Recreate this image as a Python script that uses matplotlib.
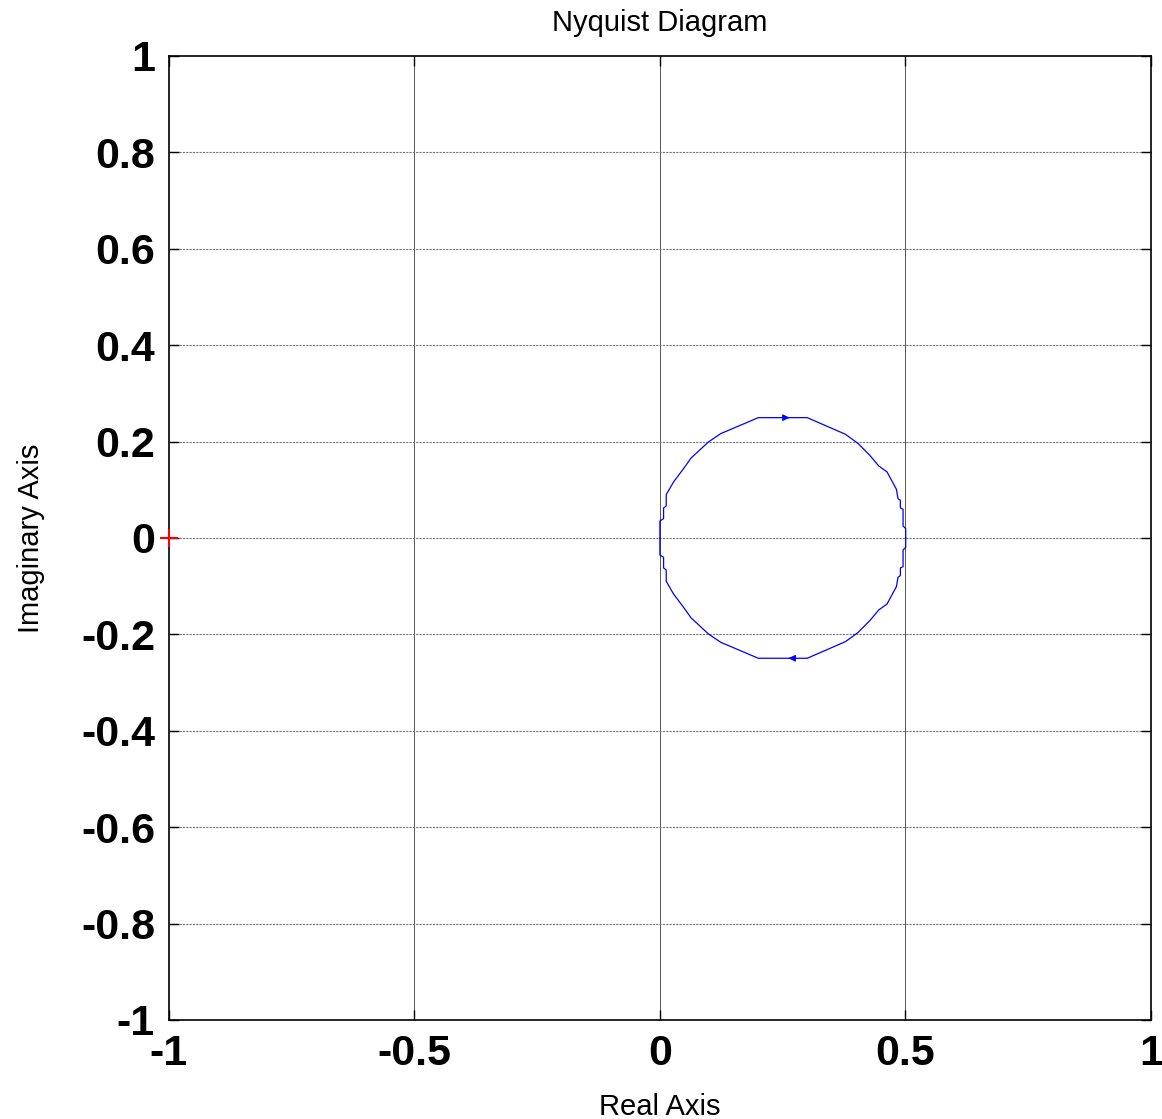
import matplotlib
matplotlib.use('Agg')
import matplotlib.pyplot as plt

# Nyquist curve, positive frequencies
re_pos = [0.0, 0.0, 0.0075, 0.0075, 0.0129, 0.0129, 0.0278, 0.0481, 0.0637,
          0.0989, 0.124, 0.2005, 0.300, 0.378, 0.404, 0.4275, 0.4458, 0.4627,
          0.4817, 0.485, 0.4898, 0.4898, 0.4953, 0.4953, 0.5007, 0.5007]
im_pos = [0.0, 0.0353, 0.0401, 0.0622, 0.0664, 0.0899, 0.1162, 0.1438, 0.166,
          0.1992, 0.2165, 0.2496, 0.2496, 0.2151, 0.1957, 0.1715, 0.1494, 0.1369,
          0.101, 0.0816, 0.0781, 0.0622, 0.0595, 0.0249, 0.0194, 0.0]
# negative frequencies are the mirror image
re_neg = re_pos
im_neg = [-v for v in im_pos]

ticks_x = [-1, -0.5, 0, 0.5, 1]
ticks_y = [-1, -0.8, -0.6, -0.4, -0.2, 0, 0.2, 0.4, 0.6, 0.8, 1]
xlabels = ['-1', '-0.5', '0', '0.5', '1']
ylabels = ['-1', '-0.8', '-0.6', '-0.4', '-0.2', '0', '0.2', '0.4', '0.6', '0.8', '1']

plt.rcParams['font.family'] = ['Liberation Sans', 'DejaVu Sans']

fig = plt.figure(figsize=(11.62, 11.19), dpi=100)
ax = fig.add_axes([0.1454, 0.0885, 0.845, 0.8615])

ax.plot(re_pos, im_pos, color='blue', lw=0.9)
ax.plot(re_neg, im_neg, color='blue', lw=0.9)

# direction arrows
ax.annotate('', xy=(0.264, 0.2496), xytext=(0.255, 0.2496),
            arrowprops=dict(arrowstyle='-|>', color='blue', lw=0.8, mutation_scale=10))
ax.annotate('', xy=(0.262, -0.2496), xytext=(0.272, -0.2496),
            arrowprops=dict(arrowstyle='-|>', color='blue', lw=0.8, mutation_scale=10))

# critical point
ax.plot([-1], [0], marker='+', color='red', markersize=13, mew=1.5, clip_on=False, zorder=5)

ax.set_xlim(-1, 1)
ax.set_ylim(-1, 1)
ax.set_xticks(ticks_x)
ax.set_xticklabels(xlabels, fontsize=31, fontweight='bold')
ax.set_yticks(ticks_y)
ax.set_yticklabels(ylabels, fontsize=31, fontweight='bold')
ax.tick_params(direction='in', length=7, width=1, top=True, right=True, pad=10)

for x in ticks_x[1:-1]:
    ax.axvline(x, color='#555555', lw=0.7, zorder=0)
for y in ticks_y[1:-1]:
    ax.axhline(y, color='#777777', lw=0.8, ls=(0, (2, 1)), zorder=0)

for s in ax.spines.values():
    s.set_linewidth(1.2)

ax.set_title('Nyquist Diagram', fontsize=21, pad=18)
ax.set_xlabel('Real Axis', fontsize=21, labelpad=14)
ax.set_ylabel('Imaginary Axis', fontsize=21, labelpad=26)

fig.savefig('out.png', dpi=100)
